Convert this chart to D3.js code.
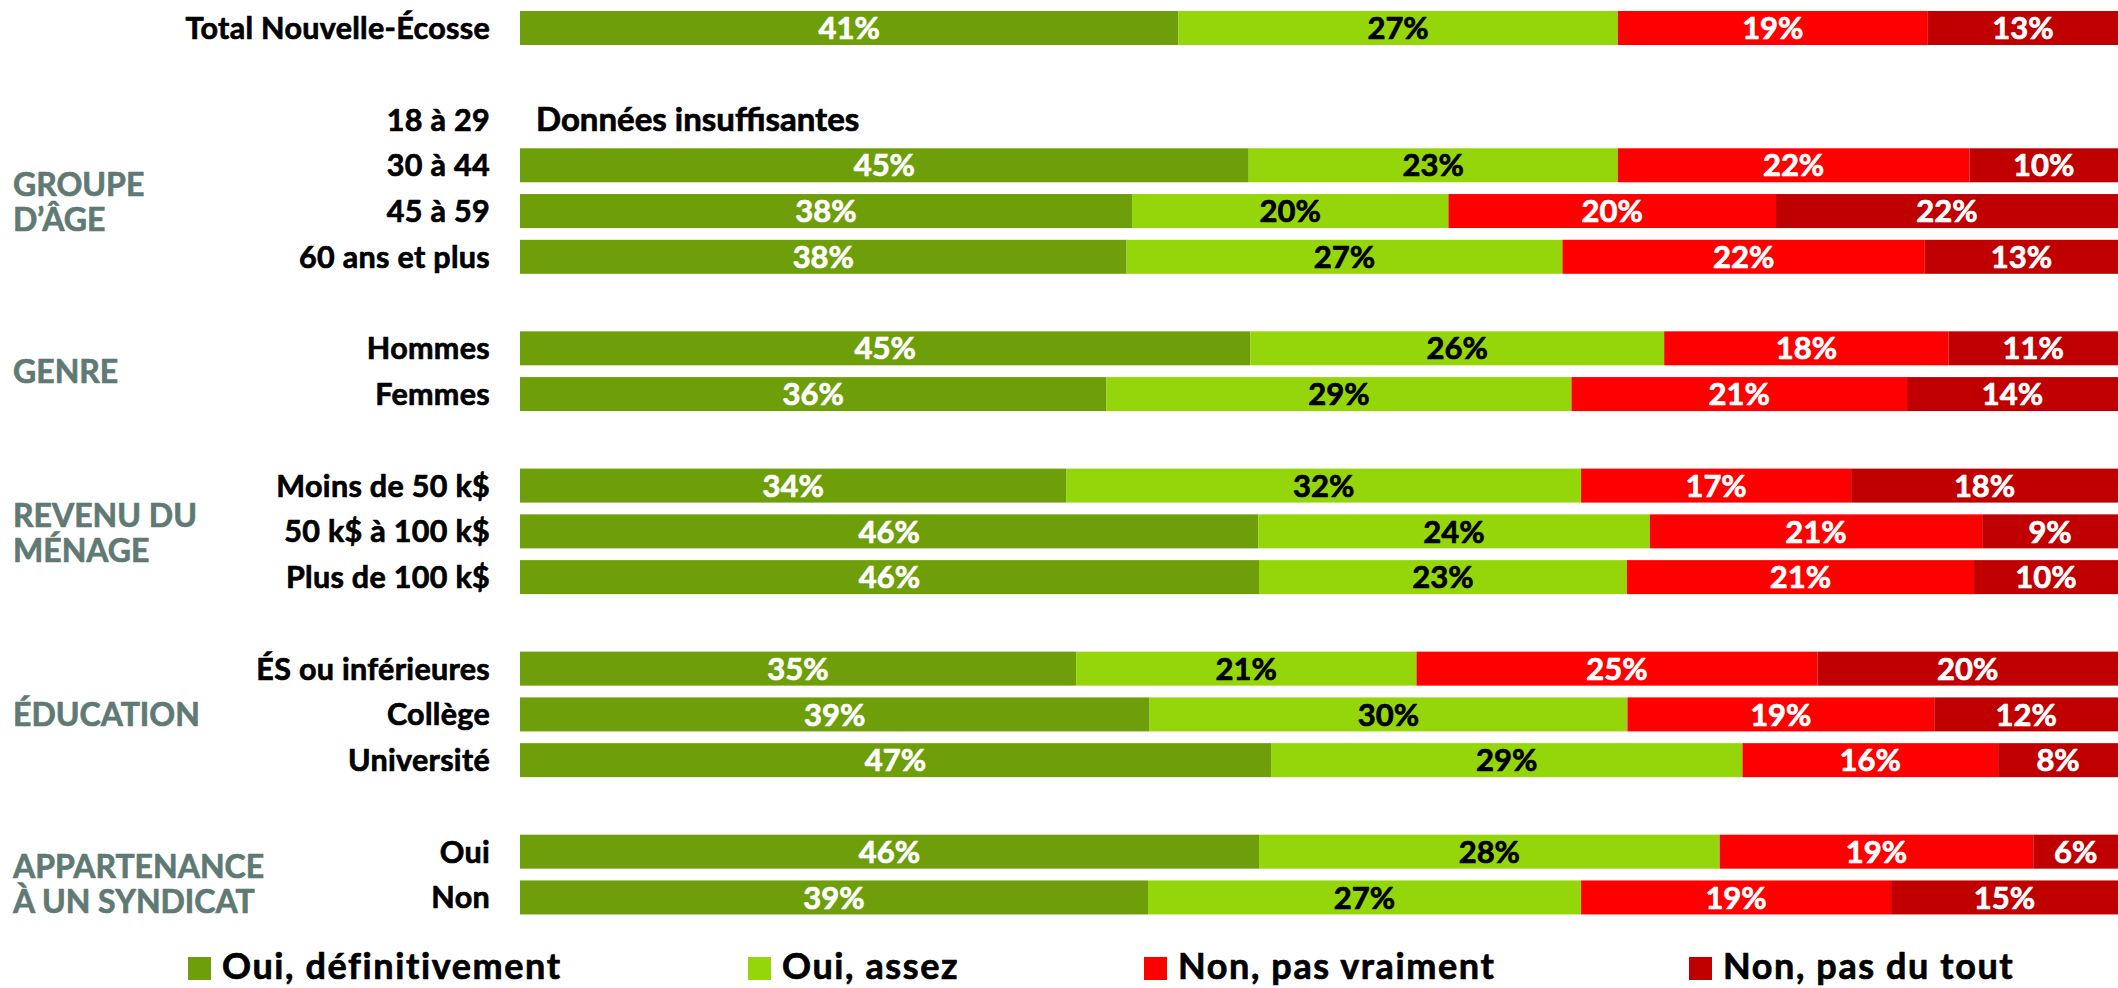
<!DOCTYPE html>
<html><head><meta charset="utf-8">
<script src="https://cdn.jsdelivr.net/npm/d3@7"></script>
<style>
body{margin:0;background:#fff}
svg{display:block}
text{font-family:Lato,"Open Sans",sans-serif;font-weight:700;stroke-width:0.7px;stroke-linejoin:round}
</style>
</head><body>
<svg id="chart" width="2118" height="988"></svg>
<script>
// ---------- data ----------
const totalLabel = "Total Nouvelle-Écosse";
const groupNames = ["GROUPE D’ÂGE", "GENRE", "REVENU DU MÉNAGE", "ÉDUCATION", "APPARTENANCE À UN SYNDICAT"];
const groupLines = [["GROUPE", "D’ÂGE"], ["GENRE"], ["REVENU DU", "MÉNAGE"], ["ÉDUCATION"], ["APPARTENANCE", "À UN SYNDICAT"]];
const groupRows = [
  ["18 à 29", "30 à 44", "45 à 59", "60 ans et plus"],
  ["Hommes", "Femmes"],
  ["Moins de 50 k$", "50 k$ à 100 k$", "Plus de 100 k$"],
  ["ÉS ou inférieures", "Collège", "Université"],
  ["Oui", "Non"]
];
const categories = [totalLabel].concat(...groupRows);
const seriesNames = ["Oui, définitivement", "Oui, assez", "Non, pas vraiment", "Non, pas du tout"];

// bar lengths (share, %)
const ouiDefinitivement = [41.2, null, 45.6, 38.3, 38.0, 45.7, 36.7, 34.2, 46.2, 46.2, 34.8, 39.4, 47.0, 46.2, 39.3];
const ouiAssez          = [27.5, null, 23.1, 19.8, 27.3, 25.9, 29.1, 32.2, 24.5, 23.0, 21.3, 29.9, 29.5, 28.8, 27.1];
const nonPasVraiment    = [19.4, null, 22.0, 20.5, 22.7, 17.8, 21.0, 16.9, 20.8, 21.7, 25.1, 19.2, 16.0, 19.6, 19.4];
const nonPasDuTout      = [11.9, null,  9.3, 21.4, 12.1, 10.6, 13.2, 16.7,  8.5,  9.0, 18.8, 11.5,  7.5,  5.3, 14.2];

// printed percentage labels
const ouiDefinitivementLabels = [41, null, 45, 38, 38, 45, 36, 34, 46, 46, 35, 39, 47, 46, 39];
const ouiAssezLabels          = [27, null, 23, 20, 27, 26, 29, 32, 24, 23, 21, 30, 29, 28, 27];
const nonPasVraimentLabels    = [19, null, 22, 20, 22, 18, 21, 17, 21, 21, 25, 19, 16, 19, 19];
const nonPasDuToutLabels      = [13, null, 10, 22, 13, 11, 14, 18,  9, 10, 20, 12,  8,  6, 15];
const insufficientText = "Données insuffisantes";

// ---------- styles / layout ----------
const colors = ["#6e9f0b", "#95d60a", "#ff0000", "#c00000"];
const labelColors = ["#ffffff", "#000000", "#ffffff", "#ffffff"];
const groupColor = "#5f7a74";
const barLeft = 520, barRight = 2118, labelRight = 490;
const groupLabelDy = [14, 0, 2, 0, 9];
const legendX = [188, 748, 1144, 1689];

const svg = d3.select("#chart");

// slot domain including spacer slots between groups
const slots = [totalLabel];
groupRows.forEach((rows, i) => { slots.push("__gap" + i); rows.forEach(r => slots.push(r)); });

const y = d3.scaleBand().domain(slots).range([5.12, 920.32]).paddingInner(0.257).paddingOuter(0.1285);
const x = d3.scaleLinear().domain([0, 1]).range([barLeft, barRight]);

const seriesArrays = [ouiDefinitivement, ouiAssez, nonPasVraiment, nonPasDuTout];
const labelArrays = [ouiDefinitivementLabels, ouiAssezLabels, nonPasVraimentLabels, nonPasDuToutLabels];
const rows = categories.map((c, i) => {
  const o = {cat: c, idx: i};
  seriesNames.forEach((s, k) => o[s] = seriesArrays[k][i]);
  return o;
});
const valid = rows.filter(r => r[seriesNames[0]] != null);
const stacked = d3.stack().keys(seriesNames).offset(d3.stackOffsetExpand)(valid);

const layers = svg.append("g").selectAll("g").data(stacked).join("g")
  .attr("fill", (d, i) => colors[i]);
layers.selectAll("rect").data(d => d).join("rect")
  .attr("x", d => x(d[0]))
  .attr("y", d => y(d.data.cat))
  .attr("width", d => x(d[1]) - x(d[0]))
  .attr("height", y.bandwidth());

const lbls = svg.append("g").selectAll("g").data(stacked).join("g")
  .attr("fill", (d, i) => labelColors[i])
  .attr("stroke", (d, i) => labelColors[i]);
lbls.selectAll("text").data(d => d.map(v => ({v, k: d.index}))).join("text")
  .attr("x", d => (x(d.v[0]) + x(d.v[1])) / 2)
  .attr("y", d => y(d.v.data.cat) + y.bandwidth() / 2)
  .attr("dy", "0.36em")
  .attr("text-anchor", "middle")
  .attr("font-size", 31)
  .text(d => labelArrays[d.k][d.v.data.idx] + "%");

// insufficient data rows
svg.append("g").selectAll("text").data(rows.filter(r => r[seriesNames[0]] == null)).join("text")
  .attr("x", barLeft + 16)
  .attr("y", d => y(d.cat) + y.bandwidth() / 2)
  .attr("dy", "0.36em")
  .attr("font-size", 33)
  .attr("fill", "#000").attr("stroke", "#000")
  .text(insufficientText);

// category axis
const yAxis = d3.axisLeft(y).tickValues(categories).tickSize(0).tickPadding(0);
const ax = svg.append("g").attr("transform", `translate(${labelRight},0)`).call(yAxis);
ax.select(".domain").remove();
ax.selectAll("text").attr("font-size", 30.5).attr("letter-spacing", "0.3px")
  .attr("fill", "#000").attr("stroke", "#000").attr("font-family", null)
  .attr("dy", "0.36em").attr("x", 0);

// group labels
groupRows.forEach((rws, i) => {
  const cy = d3.mean(rws, r => y(r) + y.bandwidth() / 2) + groupLabelDy[i];
  const lines = groupLines[i];
  const lh = 35;
  const t = svg.append("text").attr("x", 13).attr("font-size", 32)
    .attr("fill", groupColor).attr("stroke", groupColor);
  lines.forEach((ln, j) => {
    t.append("tspan").attr("x", 13)
      .attr("y", cy + (j - (lines.length - 1) / 2) * lh)
      .attr("dy", "0.36em").text(ln);
  });
});

// legend
const leg = svg.append("g").selectAll("g").data(seriesNames).join("g")
  .attr("transform", (d, i) => `translate(${legendX[i]},957)`);
leg.append("rect").attr("width", 23).attr("height", 23).attr("fill", (d, i) => colors[i]);
leg.append("text").attr("x", 34).attr("y", 22).attr("font-size", 36)
  .attr("letter-spacing", "1.6px").attr("fill", "#000").attr("stroke", "#000").text(d => d);
</script>
</body></html>
